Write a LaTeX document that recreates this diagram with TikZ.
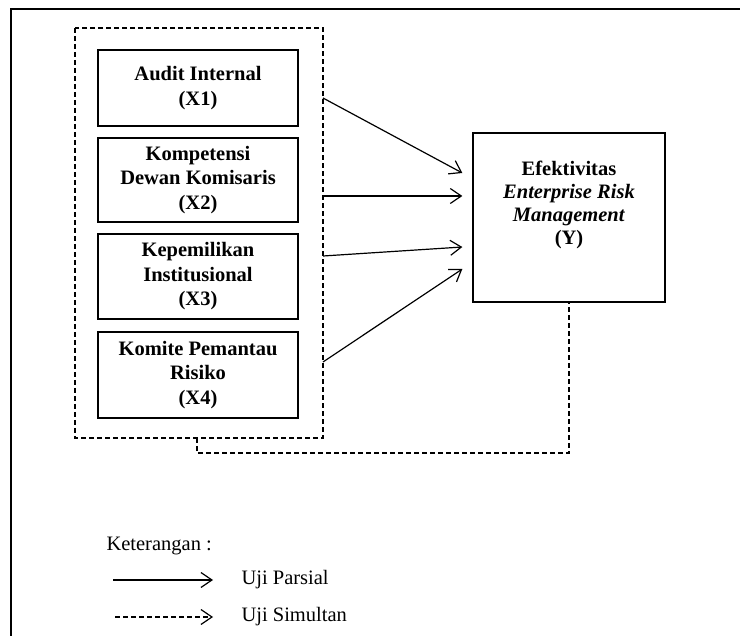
\documentclass[tikz,border=0pt]{standalone}
\usepackage{fontspec}
\setmainfont{Liberation Serif}
\usetikzlibrary{arrows.meta}

\begin{document}
\begin{tikzpicture}[x=1pt, y=-1pt,
        every node/.style = {font=\fontsize{20.5}{24}\selectfont},
        box/.style = {draw, line width=1.3pt, align=center, minimum width=200pt, font=\fontsize{20.5}{24.5}\selectfont\bfseries},
        grp/.style = {draw, line width=1.2pt, dash pattern=on 5pt off 3pt},
        parsial/.style = {line width=1.2pt, -{Straight Barb[length=11pt, width=15pt, line width=1.2pt]}},
        simultan/.style = {line width=1.2pt, dash pattern=on 5pt off 3pt}]
        \useasboundingbox (0,0) rectangle (740,636);
        \draw [line width=2pt] (11,636) -- (11,9) -- (740,9);

        \draw [grp] (75,28) rectangle (323,438);
        \coordinate (grpE) at (323,438);
        \coordinate (grpS) at (197,438);

        \node [box, minimum height=76pt] (x1) at (198,88) {Audit Internal\\(X1)};
        \node [box, minimum height=84pt] (x2) at (198,180) {Kompetensi\\Dewan Komisaris\\(X2)};
        \node [box, minimum height=85pt] (x3) at (198,276.5) {Kepemilikan\\Institusional\\(X3)};
        \node [box, minimum height=86pt] (x4) at (198,375) {Komite Pemantau\\Risiko\\(X4)};

        \node [box, minimum width=192pt, minimum height=169pt, font=\fontsize{20.5}{23}\selectfont\bfseries] (y) at (569,217.5)
              {Efektivitas\\\textit{Enterprise Risk}\\\textit{Management}\\(Y)\\[6pt]};

        \foreach \s/\e in {98/173, 196/196, 256/247, 362/269}
                 {
                   \draw [parsial] (grpE |- 0,\s) -- ([xshift=-10pt]y.west |- 0,\e);
                 }
        \draw [simultan] (grpS) -- ++(0,15) -| (y.south);

        \node [anchor=west] (ket) at (103,546) {Keterangan :};
        \node [anchor=west] (lp) at (238,580) {Uji Parsial};
        \node [anchor=west] (ls) at (238,617) {Uji Simultan};
        \draw [parsial] ([xshift=-125pt]lp.west) -- ([xshift=-25pt]lp.west);
        \draw [simultan, -{Straight Barb[length=11pt, width=15pt, line width=1.2pt]}] ([xshift=-123pt]ls.west) -- ([xshift=-25pt]ls.west);
\end{tikzpicture}
\end{document}
